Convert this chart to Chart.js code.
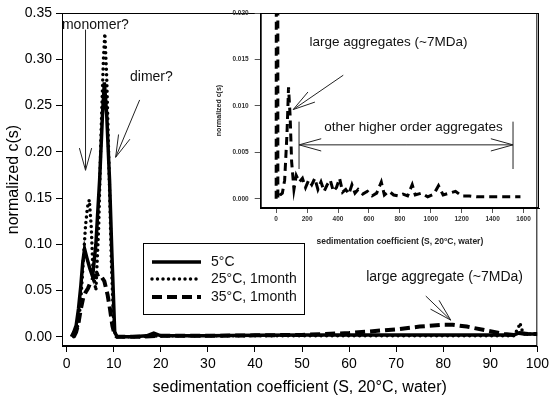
<!DOCTYPE html>
<html>
<head>
<meta charset="utf-8">
<script src="https://cdn.jsdelivr.net/npm/chart.js@4.4.0/dist/chart.umd.min.js"></script>
<style>
  html, body { margin: 0; padding: 0; background: #fff; }
  #wrap { position: relative; width: 553px; height: 398px; }
  #main { position: absolute; left: 0; top: 0; }
  #inset { position: absolute; left: 205px; top: 0; }
</style>
</head>
<body>
<div id="wrap">
  <canvas id="main" width="553" height="398"></canvas>
  <canvas id="inset" width="348" height="250"></canvas>
</div>
<script>
// --- main plot data (sedimentation coefficient S vs normalized c(s)) ---
const s5 = [1, 1.5, 2, 2.5, 3, 3.4, 3.8, 4.3, 4.9, 5.5, 6.2, 7.0, 7.6, 8.0, 8.5, 9.1, 9.6, 10.2, 10.7, 14, 17, 18.5, 20, 25, 30, 40, 50, 60, 70, 80, 90, 95, 96, 98, 100];
const c5 = [0, 0.005, 0.012, 0.03, 0.055, 0.08, 0.095, 0.085, 0.074, 0.065, 0.1, 0.17, 0.24, 0.275, 0.24, 0.17, 0.09, 0.005, 0, 0, 0.001, 0.004, 0.001, 0.001, 0.001, 0.0015, 0.0018, 0.002, 0.002, 0.002, 0.002, 0.002, 0.004, 0.003, 0.003];

const s25 = [1.5, 2, 2.5, 3, 3.5, 4, 4.4, 4.8, 5.2, 5.6, 6.2, 6.8, 7.3, 7.8, 8.1, 8.5, 9, 9.5, 10, 10.5, 12, 15, 20, 30, 40, 50, 60, 70, 80, 90, 95, 96, 96.3, 97, 100];
const c25 = [0, 0.005, 0.015, 0.04, 0.08, 0.12, 0.14, 0.148, 0.12, 0.07, 0.05, 0.12, 0.22, 0.3, 0.328, 0.28, 0.18, 0.08, 0.01, 0, 0, 0, 0.001, 0.001, 0.001, 0.001, 0.001, 0.001, 0.001, 0.001, 0.001, 0.01, 0.015, 0.003, 0.003];

const s35 = [1.5, 2, 2.5, 3, 3.5, 4, 4.5, 5, 5.5, 6, 7, 8, 8.7, 9.2, 9.7, 10.2, 10.7, 15, 20, 30, 40, 50, 55, 60, 65, 70, 75, 80, 82, 85, 90, 93, 95, 96, 98, 100];
const c35 = [0, 0.005, 0.015, 0.03, 0.042, 0.048, 0.052, 0.058, 0.062, 0.066, 0.068, 0.06, 0.045, 0.03, 0.012, 0.002, 0, 0, 0.001, 0.001, 0.0015, 0.002, 0.003, 0.004, 0.006, 0.008, 0.011, 0.013, 0.013, 0.011, 0.006, 0.003, 0.002, 0.004, 0.003, 0.003];

const seriesLabels = ['5°C', '25°C, 1month', '35°C, 1month'];
const xTicks = [0, 10, 20, 30, 40, 50, 60, 70, 80, 90, 100];
const yTicks = [0, 0.05, 0.10, 0.15, 0.20, 0.25, 0.30, 0.35];

// --- inset data (35°C, wide S range) ---
const insetS = [0, 4, 8, 11, 25, 40, 55, 70, 80, 90, 100, 115, 130, 150, 170, 190, 210, 230, 250, 270, 290, 310, 330, 350, 370, 390, 410, 430, 450, 470, 490, 510, 530, 560, 590, 620, 650, 680, 700, 730, 760, 790, 820, 850, 880, 900, 940, 980, 1020, 1050, 1080, 1120, 1160, 1200, 1250, 1300, 1350, 1400, 1450, 1500, 1580];
const insetC = [0, 0.1, 0.27, 0, 0.0004, 0.0006, 0.002, 0.007, 0.012, 0.009, 0.004, 0.001, 0.0025, 0.0018, 0.0022, 0.0012, 0.002, 0.0015, 0.0022, 0.001, 0.0018, 0.0008, 0.0015, 0.002, 0.0008, 0.0012, 0.0022, 0.0007, 0.001, 0.0005, 0.0015, 0.0006, 0.001, 0.0005, 0.0008, 0.0003, 0.0006, 0.0018, 0.0004, 0.0008, 0.0004, 0.0003, 0.0005, 0.0003, 0.0015, 0.0004, 0.0006, 0.0002, 0.0005, 0.0014, 0.0004, 0.0006, 0.0008, 0.0003, 0.0003, 0.0002, 0.0002, 0.0002, 0.0002, 0.0002, 0.0002];
const insetXTicks = [0, 200, 400, 600, 800, 1000, 1200, 1400, 1600];
const insetYTicks = [0, 0.005, 0.010, 0.015, 0.020];

const FONT = "'Liberation Sans', Arial, sans-serif";

function pts(xs, ys) {
  return xs.map((x, i) => ({ x: x, y: ys[i] }));
}

// open V arrow, tip at (x2,y2)
function arrow(ctx, x1, y1, x2, y2) {
  const a = Math.atan2(y1 - y2, x1 - x2);
  const len = 23, spread = 0.27;
  ctx.beginPath();
  ctx.moveTo(x1, y1);
  ctx.lineTo(x2, y2);
  ctx.moveTo(x2 + len * Math.cos(a + spread), y2 + len * Math.sin(a + spread));
  ctx.lineTo(x2, y2);
  ctx.lineTo(x2 + len * Math.cos(a - spread), y2 + len * Math.sin(a - spread));
  ctx.stroke();
}

const framePlugin = {
  id: 'frame',
  afterDraw(chart) {
    const { ctx, chartArea: a } = chart;
    ctx.save();
    ctx.strokeStyle = '#000';
    ctx.lineWidth = 1;
    ctx.strokeRect(a.left + 0.5, a.top + 0.5, a.right - a.left - 1, a.bottom - a.top - 1);
    ctx.restore();
  }
};

// notes in data coordinates
const mainNotes = [
  { text: 'monomer?', x: 6.1, y: 0.337 },
  { text: 'dimer?', x: 18.0, y: 0.281 },
  { text: 'large aggregate (~7MDa)', x: 80.3, y: 0.064 }
];
const mainArrows = [
  [4.0, 0.332, 4.0, 0.180],
  [15.5, 0.256, 10.4, 0.194],
  [76.3, 0.044, 81.6, 0.018]
];

const mainDecor = {
  id: 'mainDecor',
  afterDraw(chart) {
    const { ctx, scales: { x, y } } = chart;
    ctx.save();
    ctx.fillStyle = '#111';
    ctx.font = '14px ' + FONT;
    ctx.textAlign = 'center';
    ctx.textBaseline = 'middle';
    mainNotes.forEach(n => ctx.fillText(n.text, x.getPixelForValue(n.x), y.getPixelForValue(n.y)));
    ctx.strokeStyle = '#222';
    ctx.lineWidth = 1;
    mainArrows.forEach(a => arrow(ctx, x.getPixelForValue(a[0]), y.getPixelForValue(a[1]),
      x.getPixelForValue(a[2]), y.getPixelForValue(a[3])));

    // legend box
    const bx = 143, by = 243, bw = 161, bh = 71;
    ctx.fillStyle = '#fff';
    ctx.fillRect(bx, by, bw, bh);
    ctx.strokeStyle = '#000';
    ctx.strokeRect(bx + 0.5, by + 0.5, bw, bh);
    const rows = [262, 279, 297];
    chart.data.datasets.forEach((ds, i) => {
      ctx.save();
      ctx.strokeStyle = '#000';
      ctx.lineWidth = ds.borderWidth;
      ctx.lineCap = ds.borderCapStyle || 'butt';
      ctx.setLineDash(ds.borderDash || []);
      ctx.beginPath();
      ctx.moveTo(152, rows[i]);
      ctx.lineTo(201, rows[i]);
      ctx.stroke();
      ctx.restore();
      ctx.fillStyle = '#111';
      ctx.font = '14px ' + FONT;
      ctx.textAlign = 'left';
      ctx.fillText(ds.label, 211, rows[i]);
    });
    ctx.restore();
  }
};

new Chart(document.getElementById('main'), {
  type: 'line',
  data: {
    datasets: [
      { label: seriesLabels[0], data: pts(s5, c5), borderColor: '#000', borderWidth: 3.5, pointRadius: 0 },
      { label: seriesLabels[1], data: pts(s25, c25), borderColor: '#000', borderWidth: 3.5, borderDash: [0, 5.5], borderCapStyle: 'round', pointRadius: 0 },
      { label: seriesLabels[2], data: pts(s35, c35), borderColor: '#000', borderWidth: 4, borderDash: [10, 5], pointRadius: 0 }
    ]
  },
  plugins: [framePlugin, mainDecor],
  options: {
    responsive: false,
    animation: false,
    layout: { padding: { top: 13, right: 14, left: 0, bottom: 0 } },
    plugins: { legend: { display: false }, tooltip: { enabled: false } },
    scales: {
      x: {
        type: 'linear', min: -1, max: 100,
        afterBuildTicks: s => { s.ticks = xTicks.map(v => ({ value: v })); },
        afterFit: s => { s.height = 52; },
        ticks: { color: '#000', font: { family: FONT, size: 14 }, padding: 4, maxRotation: 0, callback: v => String(v) },
        grid: { drawOnChartArea: false, drawTicks: true, tickLength: 6, color: '#000' },
        border: { color: '#000' },
        title: { display: true, text: 'sedimentation coefficient (S, 20°C, water)', color: '#000', font: { family: FONT, size: 16 }, padding: { top: 0, bottom: 0.5 } }
      },
      y: {
        type: 'linear', min: -0.01, max: 0.35,
        afterBuildTicks: s => { s.ticks = yTicks.map(v => ({ value: v })); },
        afterFit: s => { s.width = 62; },
        ticks: { color: '#000', font: { family: FONT, size: 14 }, padding: 4, callback: v => v.toFixed(2) },
        grid: { drawOnChartArea: false, drawTicks: true, tickLength: 6, color: '#000' },
        border: { color: '#000' },
        title: { display: true, text: 'normalized c(s)', color: '#000', font: { family: FONT, size: 16 }, padding: { top: 4, bottom: 0 } }
      }
    }
  }
});

// --- inset ---
const insetNotes = [
  { text: 'large aggregates (~7MDa)', x: 726, y: 0.0168 },
  { text: 'other higher order aggregates', x: 888, y: 0.0077 }
];

const insetDecor = {
  id: 'insetDecor',
  afterDraw(chart) {
    const { ctx, scales: { x, y } } = chart;
    ctx.save();
    ctx.fillStyle = '#111';
    ctx.font = '13.5px ' + FONT;
    ctx.textAlign = 'center';
    ctx.textBaseline = 'middle';
    insetNotes.forEach(n => ctx.fillText(n.text, x.getPixelForValue(n.x), y.getPixelForValue(n.y)));
    ctx.strokeStyle = '#222';
    ctx.lineWidth = 1;
    arrow(ctx, x.getPixelForValue(434), y.getPixelForValue(0.0133), x.getPixelForValue(110), y.getPixelForValue(0.0096));
    const xl = x.getPixelForValue(148), xr = x.getPixelForValue(1532), ym = y.getPixelForValue(0.0058);
    arrow(ctx, (xl + xr) / 2, ym, xl, ym);
    arrow(ctx, (xl + xr) / 2, ym, xr, ym);
    ctx.beginPath();
    [xl, xr].forEach(px => {
      ctx.moveTo(px, y.getPixelForValue(0.0083));
      ctx.lineTo(px, y.getPixelForValue(0.0032));
    });
    ctx.stroke();
    ctx.restore();
  }
};

const insetTick = { color: '#333', font: { family: FONT, size: 6.5, weight: 'bold' } };

new Chart(document.getElementById('inset'), {
  type: 'line',
  data: {
    datasets: [
      { label: seriesLabels[2], data: pts(insetS, insetC), borderColor: '#000', borderWidth: 3, borderDash: [8, 5], pointRadius: 0 }
    ]
  },
  plugins: [framePlugin, insetDecor],
  options: {
    responsive: false,
    animation: false,
    layout: { padding: { top: 13, right: 14, left: 0, bottom: 0 } },
    plugins: { legend: { display: false }, tooltip: { enabled: false } },
    scales: {
      x: {
        type: 'linear', min: -100, max: 1700,
        afterBuildTicks: s => { s.ticks = insetXTicks.map(v => ({ value: v })); },
        afterFit: s => { s.height = 42; },
        ticks: Object.assign({ padding: 2, maxRotation: 0, autoSkip: false, callback: v => String(v) }, insetTick),
        grid: { drawOnChartArea: false, drawTicks: true, tickLength: 5, color: '#555' },
        border: { color: '#000' },
        title: { display: true, text: 'sedimentation coefficient (S, 20°C, water)', color: '#222', font: { family: FONT, size: 8.5, weight: 'bold' }, padding: { top: 0, bottom: 3 } }
      },
      y: {
        type: 'linear', min: -0.001, max: 0.02,
        afterBuildTicks: s => { s.ticks = insetYTicks.map(v => ({ value: v })); },
        afterFit: s => { s.width = 55.7; },
        ticks: Object.assign({ padding: 6, callback: v => v.toFixed(3) }, insetTick),
        grid: { drawOnChartArea: false, drawTicks: true, tickLength: 6, color: '#555' },
        border: { color: '#000' },
        title: { display: true, text: 'normalized c(s)', color: '#222', font: { family: FONT, size: 7, weight: 'bold' }, padding: { top: 10, bottom: 0 } }
      }
    }
  }
});
</script>
</body>
</html>
